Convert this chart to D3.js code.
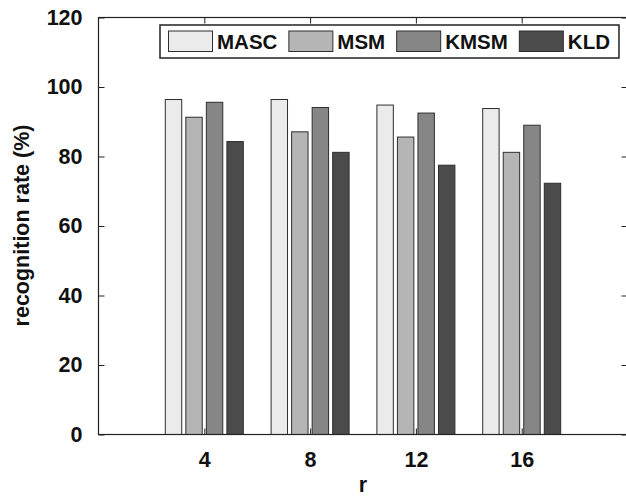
<!DOCTYPE html>
<html>
<head>
<meta charset="utf-8">
<script src="https://cdn.jsdelivr.net/npm/d3@7"></script>
<style>
  html, body { margin: 0; padding: 0; background: #fff; }
  svg { display: block; }
  text { font-family: "Liberation Sans", Arial, Helvetica, sans-serif; font-weight: bold; fill: #111; }
</style>
</head>
<body>
<svg id="chart" width="626" height="496"></svg>
<script>
// ---- data ----
const categories = ["4", "8", "12", "16"];
const seriesNames = ["MASC", "MSM", "KMSM", "KLD"];
const MASC = [96.4, 96.4, 94.8, 93.8];
const MSM  = [91.3, 87.1, 85.6, 81.2];
const KMSM = [95.6, 94.1, 92.5, 89.0];
const KLD  = [84.3, 81.2, 77.5, 72.3];
const yTicks = [0, 20, 40, 60, 80, 100, 120];
const seriesColors = ["#ebebeb", "#b5b5b5", "#868686", "#4b4b4b"];

const seriesValues = [MASC, MSM, KMSM, KLD];

const svg = d3.select("#chart");
const pL = 98.5, pR = 627.5, pT = 17.5, pB = 434.5;

const x = d3.scaleLinear().domain([0, 5]).range([pL, pR]);
const y = d3.scaleLinear().domain([0, 120]).range([pB, pT]);
const inner = d3.scaleBand().domain(seriesNames).range([-39, 39]).paddingInner(0.2);

// bars
const data = [];
categories.forEach((c, i) => {
  seriesNames.forEach((s, j) => {
    data.push({ cat: c, idx: i + 1, series: s, j, value: seriesValues[j][i] });
  });
});

svg.append("g").selectAll("rect").data(data).join("rect")
  .attr("x", d => x(d.idx) + inner(d.series))
  .attr("width", inner.bandwidth())
  .attr("y", d => y(d.value))
  .attr("height", d => y(0) - y(d.value))
  .attr("fill", d => seriesColors[d.j])
  .attr("stroke", "#2e2e2e")
  .attr("stroke-width", 1);

// frame
svg.append("rect")
  .attr("x", pL).attr("y", pT)
  .attr("width", pR - pL).attr("height", pB - pT)
  .attr("fill", "none").attr("stroke", "#222").attr("stroke-width", 1.2);

const tickVals = categories.map((c, i) => i + 1);

const gL = svg.append("g").attr("transform", `translate(${pL},0)`)
  .call(d3.axisLeft(y).tickValues(yTicks).tickSize(-6).tickPadding(16));
const gR = svg.append("g").attr("transform", `translate(${pR},0)`)
  .call(d3.axisRight(y).tickValues(yTicks).tickSize(-6).tickFormat(""));
const gB = svg.append("g").attr("transform", `translate(0,${pB})`)
  .call(d3.axisBottom(x).tickValues(tickVals).tickSize(-6).tickPadding(17)
    .tickFormat(d => categories[d - 1]));
const gT = svg.append("g").attr("transform", `translate(0,${pT})`)
  .call(d3.axisTop(x).tickValues(tickVals).tickSize(-6).tickFormat(""));

[gL, gR, gB, gT].forEach(g => {
  g.select(".domain").remove();
  g.selectAll(".tick line").attr("stroke", "#222").attr("stroke-width", 1);
  g.selectAll(".tick text").attr("font-size", 21.5)
    .attr("font-family", "'Liberation Sans', Arial, sans-serif")
    .attr("font-weight", "bold").attr("fill", "#111");
});

// axis titles
svg.append("text")
  .attr("x", (pL + pR) / 2).attr("y", 492)
  .attr("text-anchor", "middle").attr("font-size", 21.5).text("r");

svg.append("text")
  .attr("transform", `translate(29,225.5) rotate(-90)`)
  .attr("text-anchor", "middle").attr("font-size", 21.5)
  .text("recognition rate (%)");

// legend
const lg = svg.append("g");
const lgBox = lg.append("rect")
  .attr("x", 160).attr("y", 25).attr("height", 33)
  .attr("fill", "#fff").attr("stroke", "#222").attr("stroke-width", 1.5);
let lx = 168.5;
seriesNames.forEach((s, j) => {
  lg.append("rect")
    .attr("x", lx).attr("y", 31).attr("width", 44).attr("height", 20.5)
    .attr("fill", seriesColors[j]).attr("stroke", "#2e2e2e").attr("stroke-width", 1);
  const t = lg.append("text")
    .attr("x", lx + 48.5).attr("y", 48.5)
    .attr("font-size", 20.5).text(s);
  const w = t.node().getComputedTextLength();
  lx = lx + 48.5 + w + 11.5;
});
lgBox.attr("width", lx - 11.5 + 9 - 160);
</script>
</body>
</html>
